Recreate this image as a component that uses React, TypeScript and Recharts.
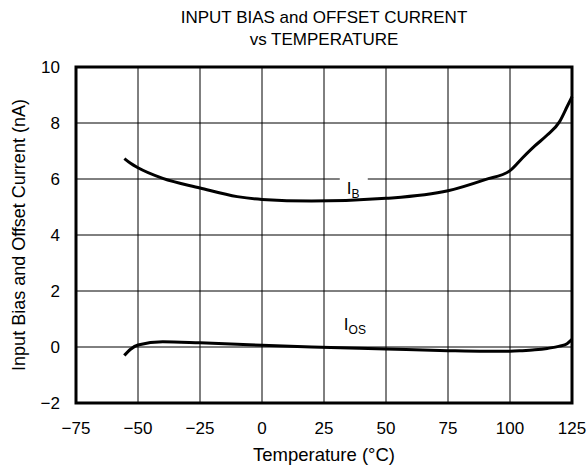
import React from 'react';
import {
  LineChart,
  Line,
  XAxis,
  YAxis,
  CartesianGrid,
  ReferenceArea,
  ReferenceDot,
} from 'recharts';

// Temperature (°C) sample points
const TEMPS = [-55.5, -53, -50, -40, -25, -10, 0, 20, 50, 75, 90, 100, 105, 110, 115, 120, 123, 125];
// Input bias current I_B (nA)
const IB = [6.73, 6.56, 6.4, 6.02, 5.68, 5.37, 5.27, 5.21, 5.31, 5.58, 5.98, 6.3, 6.75, 7.18, 7.57, 8.05, 8.58, 8.94];
// Input offset current I_OS (nA)
const IOS = [-0.3, -0.08, 0.07, 0.19, 0.15, 0.1, 0.06, 0.0, -0.07, -0.13, -0.15, -0.15, -0.13, -0.1, -0.05, 0.03, 0.12, 0.27];

const X_TICKS = [-75, -50, -25, 0, 25, 50, 75, 100, 125];
const Y_TICKS = [-2, 0, 2, 4, 6, 8, 10];

// curve labels: [temperature, value]
const IB_LABEL = [37, 6];
const IOS_LABEL = [33, 0];

const data = TEMPS.map((t, i) => ({ t, ib: IB[i], ios: IOS[i] }));

const FONT = '"Liberation Sans", Arial, Helvetica, sans-serif';
const fmt = (v: number) => String(v).replace('-', '\u2212');

export default function App() {
  return (
    <div style={{ position: 'absolute', left: 0, top: 0, width: 587, height: 468, background: '#fff', fontFamily: FONT }}>
      <div style={{ position: 'absolute', left: 76, width: 496, top: 7, textAlign: 'center', fontSize: 17, lineHeight: '22px', color: '#000' }}>
        INPUT BIAS and OFFSET CURRENT
        <br />
        vs TEMPERATURE
      </div>
      <LineChart
        width={587}
        height={468}
        data={data}
        margin={{ top: 67, right: 15, left: 0, bottom: 0 }}
        style={{ fontFamily: FONT }}
      >
        <CartesianGrid stroke="#000" strokeWidth={1} horizontalValues={Y_TICKS} verticalValues={X_TICKS} />
        <XAxis
          type="number"
          dataKey="t"
          domain={[-75, 125]}
          ticks={X_TICKS}
          tickFormatter={fmt}
          height={65}
          tickLine={false}
          axisLine={false}
          tickMargin={13}
          tick={{ fill: '#000', fontSize: 17 }}
          label={{ value: 'Temperature (\u00B0C)', position: 'insideBottom', offset: 7, fill: '#000', fontSize: 18.5 }}
        />
        <YAxis
          type="number"
          domain={[-2, 10]}
          ticks={Y_TICKS}
          tickFormatter={fmt}
          width={76}
          tickLine={false}
          axisLine={false}
          tickMargin={10}
          tick={{ fill: '#000', fontSize: 17 }}
          label={{ value: 'Input Bias and Offset Current (nA)', angle: -90, position: 'insideLeft', offset: 19, style: { textAnchor: 'middle' }, fill: '#000', fontSize: 18 }}
        />
        <ReferenceArea x1={-75} x2={125} y1={-2} y2={10} fill="none" stroke="#000" strokeWidth={3} />
        <Line type="monotone" dataKey="ib" stroke="#000" strokeWidth={3} dot={false} isAnimationActive={false} />
        <Line type="monotone" dataKey="ios" stroke="#000" strokeWidth={3} dot={false} isAnimationActive={false} />
        <ReferenceDot
          x={IB_LABEL[0]}
          y={IB_LABEL[1]}
          r={0}
          shape={(p: any) => (
            <g>
              <rect x={p.cx - 14} y={p.cy - 3} width={28} height={6} fill="#fff" />
              <text x={p.cx - 7} y={p.cy + 15} fontSize={17} fill="#000" fontFamily={FONT}>
                I
                <tspan fontSize={12} dy={4}>B</tspan>
              </text>
            </g>
          )}
        />
        <ReferenceDot
          x={IOS_LABEL[0]}
          y={IOS_LABEL[1]}
          r={0}
          shape={(p: any) => (
            <text x={p.cx} y={p.cy - 17} fontSize={17} fill="#000" fontFamily={FONT}>
              I
              <tspan fontSize={12} dy={4}>OS</tspan>
            </text>
          )}
        />
      </LineChart>
    </div>
  );
}
